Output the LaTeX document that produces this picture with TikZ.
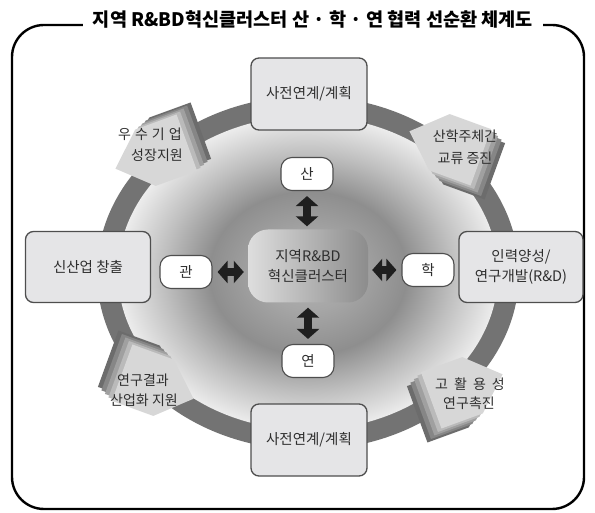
\documentclass[tikz,border=0pt]{standalone}
\usepackage{fontspec}
\setmainfont{Noto Sans CJK KR}
\usetikzlibrary{arrows.meta}
\definecolor{ringc}{HTML}{737373}
\definecolor{dc0}{HTML}{B4B4B4}
\definecolor{dc1}{HTML}{A6A6A6}
\definecolor{dc2}{HTML}{8E8E8E}
\definecolor{dc3}{HTML}{BFBFBF}
\definecolor{dc4}{HTML}{ECECEC}
\definecolor{boxfill}{HTML}{E5E5E7}
\definecolor{boxdraw}{HTML}{4E4E4E}
\definecolor{txt}{HTML}{2E2E2E}
\definecolor{la}{HTML}{6C6C6C}
\definecolor{lb}{HTML}{868686}
\definecolor{lc}{HTML}{A0A0A0}
\definecolor{ld}{HTML}{BABABA}
\definecolor{lface}{HTML}{D7D7D7}
\pgfdeclareradialshading{discshade}{\pgfpoint{0bp}{0bp}}{color(0bp)=(dc0); color(6bp)=(dc1); color(13bp)=(dc2); color(19bp)=(dc3); color(25bp)=(dc4); color(50bp)=(dc4)}
\newcommand{\tdarrow}[5]{%
  \foreach \k/\c in {4/la,3/lb,2/lc,1/ld}{%
    \fill[\c, shift={(#1+\k*#4,#2+\k*#5)}, rotate=#3] (-36,-30) -- (8,-30) -- (40,0) -- (8,30) -- (-36,30) -- cycle;}
  \fill[lface, shift={(#1,#2)}, rotate=#3] (-36,-30) -- (8,-30) -- (40,0) -- (8,30) -- (-36,30) -- cycle;}
\tikzset{
  bigbox/.style={draw=boxdraw, fill=boxfill, line width=1.3pt, rounded corners=8pt, align=center, text=txt, font=\fontsize{14.5}{20}\selectfont},
  smallbox/.style={draw=boxdraw, fill=white, line width=1.1pt, rounded corners=11pt, minimum width=52pt, minimum height=33pt, text=txt, font=\fontsize{14.5}{16}\selectfont},
  lbl/.style={text=txt, font=\fontsize{14}{16}\selectfont, inner sep=0pt},
  dbl/.style={draw=black!88, line width=8pt, {Triangle[width=22pt,length=10pt]}-{Triangle[width=22pt,length=10pt]}}
}
\begin{document}
\begin{tikzpicture}[x=1pt,y=-1pt]
\useasboundingbox (0,0) rectangle (595,513);
% frame
\draw[line width=2.4pt, rounded corners=32pt] (12,25) rectangle (584,509);
\node[fill=white, inner xsep=10pt, inner ysep=2pt, font=\bfseries\fontsize{18.6}{20}\selectfont] (title) at (313,19) {지역 R\&BD혁신클러스터 산 · 학 · 연 협력 선순환 체계도};
% ring and disc
\fill[ringc] (308,273) ellipse [x radius=211, y radius=177];
\shade[shading=discshade] (308,273) ellipse [x radius=190, y radius=157];
% 3D arrows
\tdarrow{153}{155}{200}{3.5}{-3}
\tdarrow{447}{145}{160}{3.5}{3.5}
\tdarrow{156}{385}{-20}{-3.5}{-3.5}
\tdarrow{465}{388}{20}{-3.5}{3.5}
% arrow labels
\node[lbl] (tl1) at (150,134) {우\hspace{4pt}수\hspace{4pt}기\hspace{4pt}업};
\node[lbl] (tl2) at (157,155) {성장지원};
\node[lbl] (tr1) at (465,136) {산학주체간};
\node[lbl] (tr2) at (465,158) {교류 증진};
\node[lbl] (bl1) at (143,380) {연구결과};
\node[lbl] (bl2) at (144,400) {산업화 지원};
\node[lbl] (br1) at (470,384) {고\hspace{6pt}활\hspace{6pt}용\hspace{6pt}성};
\node[lbl] (br2) at (469,403) {연구촉진};
% outer boxes
\node[bigbox, minimum width=116pt, minimum height=72pt] (top) at (309,94) {사전연계/계획};
\node[bigbox, minimum width=116pt, minimum height=72pt] (bot) at (309,440) {사전연계/계획};
\node[bigbox, minimum width=125pt, minimum height=71pt] (left) at (88,267) {신산업 창출};
\node[bigbox, minimum width=124pt, minimum height=71pt] (right) at (521,267) {인력양성/\\연구개발(R\&D)};
% center box
\node[rounded corners=20pt, left color=black!13, right color=black!45, minimum width=120pt, minimum height=73pt, align=center, text=txt, font=\fontsize{14.5}{20}\selectfont] (cbox) at (308,266) {지역R\&BD\\혁신클러스터};
% small nodes
\node[smallbox] (san) at (307,174) {산};
\node[smallbox] (yeon) at (308,361) {연};
\node[smallbox] (gwan) at (186,272) {관};
\node[smallbox] (hak) at (428,270) {학};
% double arrows
\draw[dbl, shorten <=5pt, shorten >=3pt] (san.south) -- (san.south |- cbox.north);
\draw[dbl, shorten <=5pt, shorten >=5pt] (yeon.north) -- (yeon.north |- cbox.south);
\draw[dbl, shorten <=5pt, shorten >=4pt] (gwan.east) -- (gwan.east -| cbox.west);
\draw[dbl, shorten <=5pt, shorten >=4pt] (hak.west) -- (hak.west -| cbox.east);
\end{tikzpicture}
\end{document}
